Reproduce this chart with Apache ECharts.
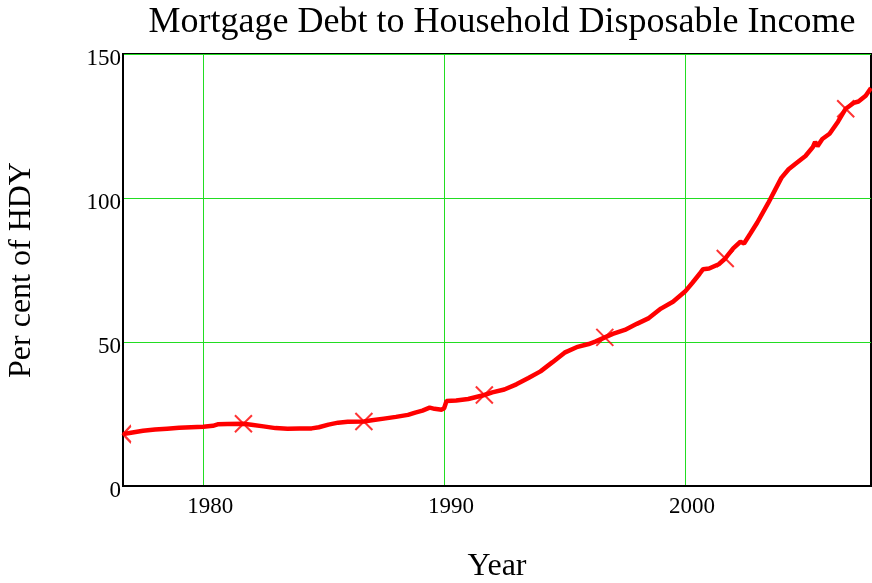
<!DOCTYPE html>
<html>
<head>
<meta charset="utf-8">
<title>Mortgage Debt to Household Disposable Income</title>
<script src="https://cdn.jsdelivr.net/npm/echarts@6/dist/echarts.min.js"></script>
<style>
	html, body { margin: 0; padding: 0; background: #fff; }
	#main { width: 872px; height: 583px; }
</style>
</head>
<body>
<div id="main"></div>
<script>
var years = [1976.67, 1977.0, 1977.5, 1978.0, 1978.5, 1979.0, 1979.5, 1980.0, 1980.4, 1980.6,
	1981.0, 1981.67, 1982.0, 1982.5, 1983.0, 1983.5, 1984.0, 1984.5, 1984.8, 1985.2,
	1985.6, 1986.0, 1986.67, 1987.0, 1987.5, 1988.0, 1988.5, 1988.8, 1989.1, 1989.4,
	1989.6, 1989.9, 1990.0, 1990.1, 1990.5, 1991.0, 1991.67, 1992.0, 1992.5, 1993.0,
	1993.5, 1994.0, 1994.5, 1995.0, 1995.5, 1996.0, 1996.3, 1996.67, 1997.0, 1997.5,
	1998.0, 1998.5, 1999.0, 1999.5, 2000.0, 2000.3, 2000.6, 2000.75, 2001.0, 2001.4,
	2001.67, 2002.0, 2002.3, 2002.45, 2002.7, 2003.0, 2003.45, 2003.75, 2004.0, 2004.3,
	2004.6, 2005.0, 2005.3, 2005.4, 2005.5, 2005.7, 2006.0, 2006.35, 2006.67, 2007.0,
	2007.2, 2007.5, 2007.72];
var debtRatio = [18.0, 18.5, 19.2, 19.6, 19.9, 20.2, 20.4, 20.6, 20.9, 21.4,
	21.5, 21.6, 21.3, 20.7, 20.1, 19.9, 20.0, 20.0, 20.4, 21.3,
	22.0, 22.3, 22.4, 22.8, 23.4, 24.0, 24.7, 25.5, 26.2, 27.2,
	26.8, 26.5, 27.0, 29.5, 29.7, 30.2, 31.6, 32.5, 33.5, 35.3,
	37.5, 39.8, 43.0, 46.3, 48.2, 49.3, 50.2, 51.6, 52.8, 54.2,
	56.3, 58.3, 61.6, 64.0, 67.5, 70.5, 73.6, 75.3, 75.5, 77.0,
	79.0, 82.5, 84.8, 84.2, 87.5, 91.5, 98.2, 103.0, 107.0, 110.0,
	112.0, 114.6, 117.6, 119.5, 118.0, 120.5, 122.3, 126.5, 131.0, 133.0,
	133.5, 135.5, 138.2];
var markerYears = [1976.67, 1981.67, 1986.67, 1991.67, 1996.67, 2001.67, 2006.67];
var markerValues = [18.0, 21.6, 22.4, 31.6, 51.6, 79.0, 131.0];
var xTicks = [1980, 1990, 2000];

var FONT = '"Liberation Serif", "DejaVu Serif", serif';
var CROSS = 'path://M0,0L10,10M10,0L0,10';
var HALF_CROSS = 'path://M10,0L0,10L10,20';

var myChart = echarts.init(document.getElementById('main'));

var lineData = [];
for (var i = 0; i < years.length; i++) {
	lineData.push([years[i], debtRatio[i]]);
}
var markerData = [];
for (var j = 0; j < markerYears.length; j++) {
	var item = { value: [markerYears[j], markerValues[j]] };
	if (j == 0) {
		// first marker sits on the left edge, only its right half shows
		item.symbol = HALF_CROSS;
		item.symbolSize = [8, 17];
		item.symbolOffset = [4, 0];
	}
	markerData.push(item);
}

var option = {
	animation: false,
	title: {
		text: 'Mortgage Debt to Household Disposable Income',
		left: 497,
		textAlign: 'center',
		top: 0,
		textStyle: { fontFamily: FONT, fontSize: 36, fontWeight: 'normal', color: '#000' }
	},
	grid: {
		left: 123, right: 1, top: 54, bottom: 97,
		containLabel: false,
		outerBoundsMode: 'none',
		show: true,
		borderColor: '#000',
		borderWidth: 2
	},
	xAxis: {
		type: 'value',
		min: 1976.67,
		max: 2007.72,
		name: 'Year',
		nameLocation: 'middle',
		nameGap: 65,
		nameTextStyle: { fontFamily: FONT, fontSize: 32, color: '#000' },
		axisLine: { lineStyle: { color: '#000', width: 2 } },
		axisTick: { show: false, customValues: xTicks },
		axisLabel: {
			customValues: xTicks,
			margin: 9,
			padding: [0, 0, 0, 14],
			fontFamily: FONT, fontSize: 23, color: '#000',
			formatter: function(v) { return String(v); }
		},
		splitLine: { show: true, lineStyle: { color: '#22dd22', width: 1 } }
	},
	yAxis: {
		type: 'value',
		min: 0,
		max: 150,
		interval: 50,
		name: 'Per cent of HDY',
		nameLocation: 'middle',
		nameGap: 85,
		nameTextStyle: { fontFamily: FONT, fontSize: 32, color: '#000' },
		axisLine: { show: true, lineStyle: { color: '#000', width: 2 } },
		axisTick: { show: false },
		axisLabel: {
			margin: 2,
			verticalAlign: 'top',
			lineHeight: 9,
			fontFamily: FONT, fontSize: 23, color: '#000'
		},
		splitLine: { show: true, lineStyle: { color: '#22dd22', width: 1 } }
	},
	series: [{
		name: 'Mortgage debt',
		type: 'line',
		data: lineData,
		showSymbol: false,
		lineStyle: { color: '#ff0000', width: 4.5 },
		z: 3
	}, {
		name: 'markers',
		type: 'scatter',
		data: markerData,
		symbol: CROSS,
		symbolSize: 17,
		itemStyle: { color: 'none', borderColor: '#ff0000', borderWidth: 2 },
		z: 4
	}]
};
myChart.setOption(option);
</script>
</body>
</html>
